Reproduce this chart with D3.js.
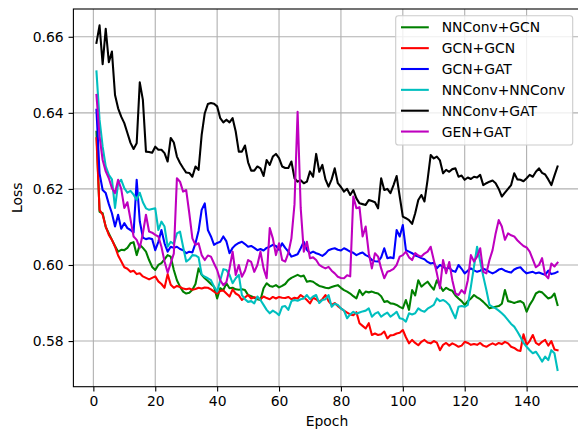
<!DOCTYPE html>
<html>
<head>
<meta charset="utf-8">
<script src="https://cdn.jsdelivr.net/npm/d3@7"></script>
<style>
  body { margin: 0; background: #fff; }
  svg { display: block; font-family: "DejaVu Sans", sans-serif; }
</style>
</head>
<body>
<div id="chart"></div>
<script>
// series names, in drawing order
var names = ["NNConv+GCN", "GCN+GCN", "GCN+GAT", "NNConv+NNConv", "NNConv+GAT", "GEN+GAT"];
var colors = ["#008000", "#ff0000", "#0000ff", "#00bfbf", "#000000", "#bf00bf"];

var xTicks = [0, 20, 40, 60, 80, 100, 120, 140];
var yTicks = [0.58, 0.60, 0.62, 0.64, 0.66];

// loss per epoch (1..150)
var nnconvGcn = [
  0.6350, 0.6140, 0.6136, 0.6100, 0.6083, 0.6066, 0.6050, 0.6035, 0.6040, 0.6039,
  0.6045, 0.6057, 0.6060, 0.6026, 0.6053, 0.6045, 0.6035, 0.6013, 0.5995, 0.5987,
  0.6000, 0.6005, 0.6015, 0.6026, 0.6022, 0.5987, 0.5960, 0.5943, 0.5930, 0.5925,
  0.5927, 0.5935, 0.5950, 0.5991, 0.5974, 0.5965, 0.5958, 0.5950, 0.5943, 0.5912,
  0.5939, 0.5934, 0.5952, 0.5939, 0.5940, 0.5936, 0.5935, 0.5936, 0.5934, 0.5921,
  0.5918, 0.5914, 0.5910, 0.5908, 0.5939, 0.5952, 0.5945, 0.5943, 0.5947, 0.5941,
  0.5945, 0.5950, 0.5960, 0.5966, 0.5970, 0.5974, 0.5970, 0.5972, 0.5956, 0.5958,
  0.5956, 0.5950, 0.5945, 0.5943, 0.5940, 0.5939, 0.5942, 0.5945, 0.5947, 0.5940,
  0.5934, 0.5930, 0.5925, 0.5918, 0.5912, 0.5934, 0.5921, 0.5930, 0.5928, 0.5930,
  0.5927, 0.5925, 0.5918, 0.5903, 0.5905, 0.5899, 0.5898, 0.5895, 0.5890, 0.5886,
  0.5908, 0.5882, 0.5934, 0.5920, 0.5960, 0.5943, 0.5950, 0.5956, 0.5945, 0.5935,
  0.5960, 0.5945, 0.5932, 0.5940, 0.5935, 0.5932, 0.5920, 0.5912, 0.5905, 0.5895,
  0.5905, 0.5912, 0.5921, 0.5915, 0.5910, 0.5903, 0.5895, 0.5886, 0.5888, 0.5890,
  0.5892, 0.5898, 0.5934, 0.5905, 0.5903, 0.5900, 0.5903, 0.5905, 0.5900, 0.5877,
  0.5895, 0.5908, 0.5925, 0.5930, 0.5928, 0.5920, 0.5912, 0.5915, 0.5925, 0.5895
];

var gcnGcn = [
  0.6333, 0.6145, 0.6132, 0.6101, 0.6079, 0.6066, 0.6048, 0.6025, 0.6010, 0.5994,
  0.5990, 0.5982, 0.5985, 0.5976, 0.5978, 0.5970, 0.5966, 0.5962, 0.5966, 0.5970,
  0.5957, 0.5950, 0.5940, 0.5976, 0.5948, 0.5940, 0.5945, 0.5942, 0.5938, 0.5936,
  0.5938, 0.5935, 0.5937, 0.5940, 0.5938, 0.5941, 0.5940, 0.5936, 0.5930, 0.5925,
  0.5932, 0.5933, 0.5925, 0.5917, 0.5936, 0.5925, 0.5920, 0.5908, 0.5915, 0.5921,
  0.5912, 0.5915, 0.5913, 0.5910, 0.5917, 0.5913, 0.5910, 0.5916, 0.5912, 0.5916,
  0.5914, 0.5913, 0.5916, 0.5910, 0.5914, 0.5912, 0.5921, 0.5915, 0.5908, 0.5899,
  0.5914, 0.5910, 0.5903, 0.5910, 0.5921, 0.5905, 0.5895, 0.5900, 0.5892, 0.5886,
  0.5880, 0.5875, 0.5870, 0.5868, 0.5876, 0.5847, 0.5840, 0.5833, 0.5847, 0.5816,
  0.5820, 0.5816, 0.5818, 0.5825, 0.5807, 0.5815, 0.5816, 0.5820, 0.5822, 0.5829,
  0.5810, 0.5794, 0.5803, 0.5795, 0.5789, 0.5798, 0.5803, 0.5796, 0.5794, 0.5800,
  0.5796, 0.5776, 0.5790, 0.5795, 0.5788, 0.5794, 0.5790, 0.5785, 0.5788, 0.5798,
  0.5795, 0.5790, 0.5792, 0.5790, 0.5795, 0.5788, 0.5785, 0.5790, 0.5794, 0.5790,
  0.5795, 0.5792, 0.5798, 0.5794, 0.5785, 0.5782, 0.5776, 0.5774, 0.5818, 0.5790,
  0.5800, 0.5816, 0.5795, 0.5790, 0.5798, 0.5803, 0.5788, 0.5800, 0.5778, 0.5776
];

var gcnGat = [
  0.6408, 0.6241, 0.6197, 0.6189, 0.6160, 0.6136, 0.6101, 0.6132, 0.6095, 0.6110,
  0.6097, 0.6092, 0.6085, 0.6224, 0.6115, 0.6072, 0.6068, 0.6070, 0.6068, 0.6039,
  0.6061, 0.6092, 0.6057, 0.6035, 0.6048, 0.6045, 0.6048, 0.6042, 0.6039, 0.6031,
  0.6035, 0.6033, 0.6057, 0.6090, 0.6145, 0.6162, 0.6092, 0.6075, 0.6053, 0.6058,
  0.6061, 0.6075, 0.6062, 0.6031, 0.6045, 0.6053, 0.6058, 0.6061, 0.6055, 0.6048,
  0.6050, 0.6045, 0.6039, 0.6042, 0.6038, 0.6045, 0.6048, 0.6053, 0.6050, 0.6040,
  0.6057, 0.6045, 0.6035, 0.6022, 0.6025, 0.6028, 0.6044, 0.6061, 0.6040, 0.6031,
  0.6035, 0.6031, 0.6028, 0.6024, 0.6030, 0.6039, 0.6042, 0.6044, 0.6040, 0.6038,
  0.6044, 0.6040, 0.6035, 0.6032, 0.6026, 0.6030, 0.6033, 0.6026, 0.6022, 0.6013,
  0.6010, 0.6009, 0.6020, 0.6044, 0.6018, 0.6020, 0.6018, 0.6092, 0.6075, 0.6105,
  0.6039, 0.6035, 0.6031, 0.6025, 0.6022, 0.6018, 0.6015, 0.6008, 0.6004, 0.6006,
  0.5991, 0.6000, 0.5995, 0.5990, 0.5993, 0.5985, 0.5982, 0.6000, 0.5990, 0.5978,
  0.5985, 0.5991, 0.5986, 0.5982, 0.5985, 0.5990, 0.5987, 0.5982, 0.5978, 0.5982,
  0.5988, 0.5990, 0.5985, 0.5982, 0.5980, 0.5988, 0.5992, 0.5994, 0.5985, 0.5978,
  0.5980, 0.5982, 0.5978, 0.5980, 0.5977, 0.5974, 0.5985, 0.5976, 0.5978, 0.5982
];

var nnconvNnconv = [
  0.6509, 0.6382, 0.6311, 0.6259, 0.6237, 0.6225, 0.6150, 0.6215, 0.6224, 0.6202,
  0.6190, 0.6195, 0.6185, 0.6171, 0.6190, 0.6165, 0.6149, 0.6145, 0.6147, 0.6149,
  0.6092, 0.6114, 0.6101, 0.6048, 0.6061, 0.6055, 0.6083, 0.6088, 0.6048, 0.6009,
  0.6015, 0.6026, 0.6025, 0.6020, 0.5975, 0.5969, 0.5965, 0.5960, 0.5943, 0.5930,
  0.5960, 0.5989, 0.5987, 0.5974, 0.5952, 0.5965, 0.5974, 0.5921, 0.5910, 0.5903,
  0.5905, 0.5899, 0.5917, 0.5908, 0.5895, 0.5882, 0.5873, 0.5880, 0.5875, 0.5868,
  0.5890, 0.5892, 0.5882, 0.5905, 0.5908, 0.5906, 0.5910, 0.5912, 0.5921, 0.5910,
  0.5917, 0.5921, 0.5900, 0.5908, 0.5910, 0.5921, 0.5890, 0.5898, 0.5895, 0.5886,
  0.5880, 0.5860, 0.5870, 0.5877, 0.5872, 0.5875, 0.5878, 0.5880, 0.5886, 0.5864,
  0.5872, 0.5876, 0.5864, 0.5870, 0.5875, 0.5864, 0.5870, 0.5877, 0.5860, 0.5858,
  0.5851, 0.5873, 0.5870, 0.5873, 0.5886, 0.5880, 0.5877, 0.5885, 0.5890, 0.5895,
  0.5912, 0.5905, 0.5908, 0.5903, 0.5895, 0.5877, 0.5860, 0.5890, 0.5892, 0.5890,
  0.5895, 0.5943, 0.5996, 0.6048, 0.6010, 0.5970, 0.5934, 0.5895, 0.5890, 0.5886,
  0.5880, 0.5873, 0.5865, 0.5855, 0.5845, 0.5838, 0.5825, 0.5811, 0.5795, 0.5785,
  0.5776, 0.5768, 0.5772, 0.5760, 0.5746, 0.5759, 0.5750, 0.5776, 0.5768, 0.5724
];

var nnconvGat = [
  0.6584, 0.6630, 0.6528, 0.6621, 0.6533, 0.6561, 0.6447, 0.6412, 0.6390, 0.6373,
  0.6347, 0.6321, 0.6305, 0.6320, 0.6480, 0.6434, 0.6298, 0.6297, 0.6295, 0.6311,
  0.6303, 0.6303, 0.6294, 0.6272, 0.6334, 0.6322, 0.6285, 0.6268, 0.6255, 0.6243,
  0.6242, 0.6232, 0.6259, 0.6250, 0.6342, 0.6399, 0.6423, 0.6426, 0.6424, 0.6417,
  0.6386, 0.6375, 0.6382, 0.6375, 0.6386, 0.6351, 0.6298, 0.6298, 0.6314, 0.6270,
  0.6248, 0.6248, 0.6259, 0.6254, 0.6234, 0.6276, 0.6263, 0.6285, 0.6292, 0.6281,
  0.6259, 0.6255, 0.6255, 0.6272, 0.6228, 0.6219, 0.6223, 0.6215, 0.6219, 0.6246,
  0.6232, 0.6292, 0.6245, 0.6263, 0.6225, 0.6206, 0.6225, 0.6254, 0.6215, 0.6205,
  0.6193, 0.6200, 0.6184, 0.6197, 0.6175, 0.6162, 0.6160, 0.6158, 0.6171, 0.6168,
  0.6165, 0.6149, 0.6228, 0.6197, 0.6200, 0.6189, 0.6210, 0.6234, 0.6180, 0.6127,
  0.6123, 0.6118, 0.6108, 0.6136, 0.6171, 0.6184, 0.6167, 0.6224, 0.6289, 0.6280,
  0.6285, 0.6275, 0.6241, 0.6250, 0.6245, 0.6252, 0.6254, 0.6232, 0.6235, 0.6224,
  0.6230, 0.6226, 0.6232, 0.6230, 0.6237, 0.6210, 0.6215, 0.6219, 0.6222, 0.6215,
  0.6200, 0.6180, 0.6190, 0.6200, 0.6210, 0.6241, 0.6225, 0.6224, 0.6220, 0.6228,
  0.6237, 0.6232, 0.6245, 0.6254, 0.6242, 0.6238, 0.6225, 0.6210, 0.6235, 0.6259
];

var genGat = [
  0.6447, 0.6338, 0.6276, 0.6246, 0.6228, 0.6202, 0.6189, 0.6224, 0.6200, 0.6150,
  0.6165, 0.6120, 0.6075, 0.6066, 0.6045, 0.6083, 0.6132, 0.6088, 0.6085, 0.6079,
  0.6075, 0.6048, 0.6009, 0.5980, 0.6005, 0.6030, 0.6228, 0.6219, 0.6193, 0.6197,
  0.6136, 0.6070, 0.6053, 0.6057, 0.6026, 0.6013, 0.6025, 0.6022, 0.6004, 0.5987,
  0.5960, 0.5947, 0.5955, 0.5991, 0.6035, 0.5974, 0.6000, 0.5969, 0.5985, 0.6013,
  0.6008, 0.5982, 0.6000, 0.6035, 0.5991, 0.5965, 0.6097, 0.6070, 0.6026, 0.6057,
  0.6013, 0.6009, 0.6031, 0.6070, 0.6160, 0.6403, 0.6150, 0.6035, 0.6061, 0.6018,
  0.6020, 0.6013, 0.6000, 0.5995, 0.5991, 0.5995, 0.5985, 0.5978, 0.5969, 0.5966,
  0.5965, 0.5973, 0.5970, 0.6180, 0.6149, 0.6152, 0.6075, 0.6101, 0.6031, 0.5991,
  0.6031, 0.6022, 0.5991, 0.5965, 0.5982, 0.5985, 0.5990, 0.6000, 0.6022, 0.6026,
  0.6035, 0.6020, 0.6013, 0.6031, 0.6025, 0.6022, 0.6030, 0.6035, 0.6048, 0.6013,
  0.5978, 0.5939, 0.6013, 0.5978, 0.6008, 0.5960, 0.5925, 0.5921, 0.5934, 0.5925,
  0.5960, 0.6026, 0.6009, 0.6022, 0.6044, 0.5982, 0.5978, 0.6013, 0.6039, 0.6083,
  0.6118, 0.6101, 0.6066, 0.6083, 0.6078, 0.6075, 0.6065, 0.6057, 0.6050, 0.6046,
  0.6035, 0.6015, 0.5994, 0.6000, 0.6018, 0.5974, 0.5965, 0.6004, 0.5996, 0.6006
];

var series = [nnconvGcn, gcnGcn, gcnGat, nnconvNnconv, nnconvGat, genGat];

var width = 578;
var height = 431;
var fontSize = 13.9;

// plot box (right spine falls just outside the picture, as in the source)
var plot = { left: 73.4, right: 580.6, top: 9, bottom: 386.7 };

var x = d3.scaleLinear().domain([-6.45, 157.45]).range([plot.left, plot.right]);
var y = d3.scaleLinear().domain([0.568, 0.6673]).range([plot.bottom, plot.top]);

var svg = d3.select("#chart")
  .append("svg")
  .attr("width", width)
  .attr("height", height);

// grid
var grid = svg.append("g").attr("stroke", "#b0b0b0").attr("stroke-width", 1.1);
grid.selectAll(".gx")
  .data(xTicks)
  .enter()
  .append("line")
  .attr("x1", (d) => x(d))
  .attr("x2", (d) => x(d))
  .attr("y1", plot.top)
  .attr("y2", plot.bottom);
grid.selectAll(".gy")
  .data(yTicks)
  .enter()
  .append("line")
  .attr("x1", plot.left)
  .attr("x2", plot.right)
  .attr("y1", (d) => y(d))
  .attr("y2", (d) => y(d));

// lines
var line = d3.line()
  .x((d, i) => x(i + 1))
  .y((d) => y(d));

svg.append("defs")
  .append("clipPath")
  .attr("id", "clip")
  .append("rect")
  .attr("x", plot.left)
  .attr("y", plot.top)
  .attr("width", plot.right - plot.left)
  .attr("height", plot.bottom - plot.top);

svg.append("g")
  .attr("clip-path", "url(#clip)")
  .selectAll("path")
  .data(series)
  .enter()
  .append("path")
  .attr("d", line)
  .attr("fill", "none")
  .attr("stroke", (d, i) => colors[i])
  .attr("stroke-width", 2.08)
  .attr("stroke-linejoin", "round")
  .attr("stroke-linecap", "square");

// axes
var xAxis = d3.axisBottom(x).tickValues(xTicks).tickSize(4.86).tickPadding(4.86).tickFormat(d3.format("d"));
var yAxis = d3.axisLeft(y).tickValues(yTicks).tickSize(4.86).tickPadding(4.86).tickFormat(d3.format(".2f"));

var gx = svg.append("g")
  .attr("transform", `translate(0, ${plot.bottom})`)
  .call(xAxis);
var gy = svg.append("g")
  .attr("transform", `translate(${plot.left}, 0)`)
  .call(yAxis);

[gx, gy].forEach(function (g) {
  g.select(".domain").remove();
  g.selectAll(".tick line").attr("stroke", "#000").attr("stroke-width", 1.1);
  g.selectAll(".tick text")
    .attr("fill", "#000")
    .style("font-size", fontSize + "px")
    .style("font-family", "DejaVu Sans");
});

// spines
svg.append("rect")
  .attr("x", plot.left)
  .attr("y", plot.top)
  .attr("width", plot.right - plot.left)
  .attr("height", plot.bottom - plot.top)
  .attr("fill", "none")
  .attr("stroke", "#000")
  .attr("stroke-width", 1.1);

// axis labels
svg.append("text")
  .attr("x", (plot.left + plot.right) / 2)
  .attr("y", 426)
  .attr("text-anchor", "middle")
  .style("font-size", fontSize + "px")
  .text("Epoch");

svg.append("text")
  .attr("transform", `translate(22, ${(plot.top + plot.bottom) / 2}) rotate(-90)`)
  .attr("text-anchor", "middle")
  .style("font-size", fontSize + "px")
  .text("Loss");

// legend
var legend = svg.append("g");
legend.append("rect")
  .attr("x", 395.7)
  .attr("y", 15.7)
  .attr("width", 177)
  .attr("height", 129.3)
  .attr("rx", 2.8)
  .attr("fill", "#fff")
  .attr("fill-opacity", 0.8)
  .attr("stroke", "#cccccc")
  .attr("stroke-width", 1.1);

var rows = legend.selectAll(".row")
  .data(names)
  .enter()
  .append("g")
  .attr("transform", (d, i) => `translate(0, ${27.3 + i * 20.85})`);
rows.append("line")
  .attr("x1", 401)
  .attr("x2", 428.8)
  .attr("stroke", (d, i) => colors[i])
  .attr("stroke-width", 2.08);
rows.append("text")
  .attr("x", 441.7)
  .attr("dy", "0.36em")
  .style("font-size", fontSize + "px")
  .text((d) => d);
</script>
</body>
</html>
